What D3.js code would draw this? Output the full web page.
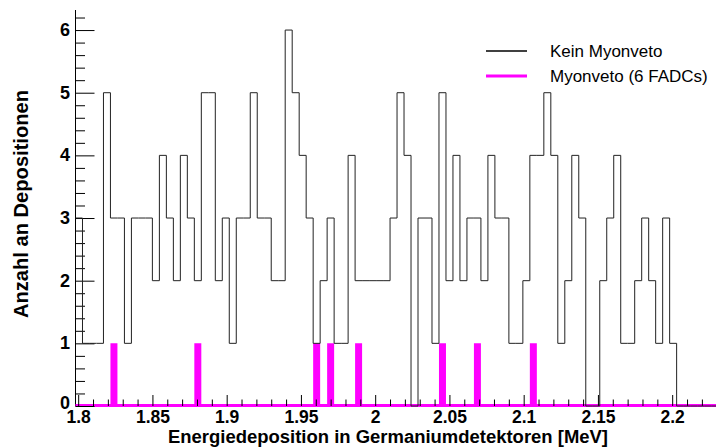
<!DOCTYPE html>
<html>
<head>
<meta charset="utf-8">
<script src="https://cdn.jsdelivr.net/npm/d3@7"></script>
<style>
  html, body { margin: 0; padding: 0; background: #fff; }
  svg { display: block; }
  text { font-family: "Liberation Sans", Arial, sans-serif; }
</style>
</head>
<body>
<svg id="chart" width="716" height="447"></svg>
<script>
// ---- data ----
const binLowEdge = 1.7982;          // MeV, lower edge of first bin
const binWidth = 0.004707;          // MeV
const keinMyonveto = [
  3, 1, 1, 1, 5, 3, 3, 1, 3, 3,
  3, 2, 4, 3, 2, 4, 3, 2, 5, 5,
  2, 3, 1, 3, 3, 5, 3, 3, 2, 2,
  6, 5, 4, 3, 1, 2, 3, 1, 1, 4,
  2, 2, 2, 2, 2, 3, 5, 4, 0, 3,
  3, 1, 5, 2, 4, 2, 3, 3, 2, 4,
  3, 3, 1, 1, 2, 4, 4, 5, 4, 1,
  2, 4, 3, 0, 0, 2, 3, 4, 1, 1,
  2, 3, 2, 1, 3, 1, 0, 0, 0, 0,
  0, 0
];
const myonveto = [
  0, 0, 0, 0, 0, 1, 0, 0, 0, 0,
  0, 0, 0, 0, 0, 0, 0, 1, 0, 0,
  0, 0, 0, 0, 0, 0, 0, 0, 0, 0,
  0, 0, 0, 0, 1, 0, 1, 0, 0, 0,
  1, 0, 0, 0, 0, 0, 0, 0, 0, 0,
  0, 0, 1, 0, 0, 0, 0, 1, 0, 0,
  0, 0, 0, 0, 0, 1, 0, 0, 0, 0,
  0, 0, 0, 0, 0, 0, 0, 0, 0, 0,
  0, 0, 0, 0, 0, 0, 0, 0, 0, 0,
  0, 0
];
const xTickLabels = ["1.8", "1.85", "1.9", "1.95", "2", "2.05", "2.1", "2.15", "2.2"];
const yTickLabels = ["0", "1", "2", "3", "4", "5", "6"];
const seriesNames = ["Kein Myonveto", "Myonveto (6 FADCs)"];
const xTitle = "Energiedeposition in Germaniumdetektoren [MeV]";
const yTitle = "Anzahl an Depositionen";
const yMax = 6.32;

// ---- layout ----
const svg = d3.select("#chart");
const nBins = keinMyonveto.length;
const xMaxVal = binLowEdge + nBins * binWidth;
const plotL = 75.5, plotB = 406, plotT = 10;
const x = d3.scaleLinear().domain([binLowEdge, xMaxVal]).range([plotL, plotL + nBins * 6.99]);
const y = d3.scaleLinear().domain([0, yMax]).range([plotB, plotT]);

const edges = d3.range(nBins + 1).map(i => binLowEdge + i * binWidth);
function stepPoints(arr) {
  const pts = arr.map((v, i) => [edges[i], v]);
  pts.push([edges[nBins], arr[nBins - 1]]);
  return pts;
}

// magenta histogram (filled bins)
const area = d3.area().curve(d3.curveStepAfter)
  .x(d => x(d[0])).y0(y(0)).y1(d => y(d[1]));
svg.append("path").datum(stepPoints(myonveto))
  .attr("d", area).attr("fill", "#ff00ff").attr("stroke", "none");

// axis lines
svg.append("line").attr("x1", plotL).attr("x2", 716).attr("y1", plotB).attr("y2", plotB)
  .attr("stroke", "#000").attr("stroke-width", 1);
svg.append("line").attr("x1", plotL).attr("x2", plotL).attr("y1", plotB).attr("y2", plotT)
  .attr("stroke", "#000").attr("stroke-width", 1);

// magenta baseline
svg.append("line").attr("x1", x(binLowEdge)).attr("x2", 716)
  .attr("y1", plotB - 0.5).attr("y2", plotB - 0.5)
  .attr("stroke", "#ff00ff").attr("stroke-width", 3);

// x ticks (major every 0.05, minor every 0.01)
const xMajor = xTickLabels.map(Number);
const xMinor = d3.range(180, 224).map(v => v / 100).filter(v => !xMajor.some(m => Math.abs(m - v) < 1e-9));
const xAxisMinor = d3.axisTop(x).tickValues(xMinor).tickSize(6.5).tickFormat("");
const xAxisMajor = d3.axisTop(x).tickValues(xMajor).tickSize(11).tickFormat((d, i) => xTickLabels[i]);
const gxMin = svg.append("g").attr("transform", `translate(0,${plotB})`).call(xAxisMinor);
const gxMaj = svg.append("g").attr("transform", `translate(0,${plotB})`).call(xAxisMajor);
[gxMin, gxMaj].forEach(gg => { gg.select(".domain").remove(); gg.selectAll("line").attr("stroke", "#000"); });
gxMaj.selectAll(".tick text")
  .attr("y", 16.5).attr("dy", "0")
  .attr("font-size", 17.5).attr("font-weight", "bold").attr("fill", "#000")
  .attr("font-family", "Liberation Sans, Arial, sans-serif");

// y ticks
const yMajor = yTickLabels.map(Number);
const yMinor = d3.range(0, 32).map(v => v / 5).filter(v => Math.abs(v - Math.round(v)) > 1e-9);
const yAxisMinor = d3.axisRight(y).tickValues(yMinor).tickSize(9.5).tickFormat("");
const yAxisMajor = d3.axisRight(y).tickValues(yMajor).tickSize(19).tickFormat("");
const gyMin = svg.append("g").attr("transform", `translate(${plotL},0)`).call(yAxisMinor);
const gyMaj = svg.append("g").attr("transform", `translate(${plotL},0)`).call(yAxisMajor);
[gyMin, gyMaj].forEach(gg => { gg.select(".domain").remove(); gg.selectAll("line").attr("stroke", "#000"); });
svg.append("g").selectAll("text").data(yMajor).join("text")
  .attr("x", 70).attr("y", d => y(d) - (d === 0 ? 3 : 0))
  .attr("text-anchor", "end").attr("dominant-baseline", "central")
  .attr("font-size", 18).attr("font-weight", "bold").attr("fill", "#000")
  .text((d, i) => yTickLabels[i]);

// black histogram
const line = d3.line().curve(d3.curveStepAfter).x(d => x(d[0])).y(d => y(d[1]));
svg.append("path").datum(stepPoints(keinMyonveto))
  .attr("d", line).attr("fill", "none").attr("stroke", "#222").attr("stroke-width", 1);

// axis titles
svg.append("text").attr("x", 388).attr("y", 442.5)
  .attr("text-anchor", "middle").attr("font-size", 18).attr("font-weight", "bold")
  .attr("textLength", 440).attr("lengthAdjust", "spacingAndGlyphs")
  .text(xTitle);
svg.append("text").attr("transform", "translate(28,204) rotate(-90)")
  .attr("text-anchor", "middle").attr("font-size", 19.5).attr("font-weight", "bold")
  .attr("textLength", 228).attr("lengthAdjust", "spacingAndGlyphs")
  .text(yTitle);

// legend
const legY = [51, 76];
const legColors = ["#000", "#ff00ff"];
const legW = [1.5, 3];
const leg = svg.append("g");
seriesNames.forEach((name, i) => {
  leg.append("line").attr("x1", 486).attr("x2", 527).attr("y1", legY[i]).attr("y2", legY[i])
    .attr("stroke", legColors[i]).attr("stroke-width", legW[i]);
  leg.append("text").attr("x", 550).attr("y", legY[i]).attr("dominant-baseline", "central")
    .attr("font-size", 17).attr("fill", "#000").text(name);
});
</script>
</body>
</html>
